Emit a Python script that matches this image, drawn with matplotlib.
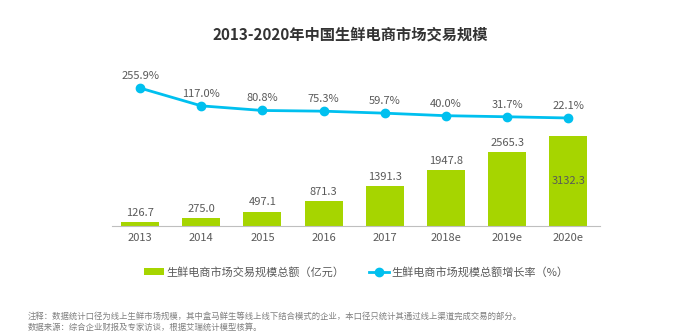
import matplotlib.pyplot as plt
import numpy as np

plt.rcParams['font.family'] = ['Noto Sans CJK SC', 'DejaVu Sans']

years = ['2013', '2014', '2015', '2016', '2017', '2018e', '2019e', '2020e']
scale = [126.7, 275.0, 497.1, 871.3, 1391.3, 1947.8, 2565.3, 3132.3]
growth = [255.9, 117.0, 80.8, 75.3, 59.7, 40.0, 31.7, 22.1]

bar_color = '#a6d500'
line_color = '#00c0ef'
text_color = '#595959'

fig = plt.figure(figsize=(7, 3.35), dpi=100)
ax = fig.add_axes([112 / 700, 1 - 226 / 335, 488 / 700, 146 / 335])
x = np.arange(len(years))

ax.bar(x, scale, width=0.62, color=bar_color, zorder=2, label='生鲜电商市场交易规模总额（亿元）')
for i, v in enumerate(scale):
    if i == len(scale) - 1:
        # last bar is tall enough to hold its label inside
        ax.text(i, v / 2, f'{v:.1f}', ha='center', va='center', fontsize=8, color=text_color)
    else:
        ax.text(i, v + 150, f'{v:.1f}', ha='center', va='bottom', fontsize=8, color=text_color)

ax.set_xlim(-0.46, 7.52)
ax.set_ylim(0, 5080)
ax.set_xticks(x)
ax.set_xticklabels(years, fontsize=8, color=text_color)
ax.tick_params(axis='x', length=0, pad=5)
ax.set_yticks([])
for s in ['top', 'left', 'right']:
    ax.spines[s].set_visible(False)
ax.spines['bottom'].set_color('#bfbfbf')

ax2 = ax.twinx()
ax2.plot(x, growth, color=line_color, lw=2, marker='o', ms=6, zorder=3,
         label='生鲜电商市场规模总额增长率（%）')
for i, v in enumerate(growth):
    ax2.text(i, v + 55, f'{v:.1f}%', ha='center', va='bottom', fontsize=8, color=text_color)
ax2.set_ylim(-822, 319)
ax2.set_yticks([])
for s in ['top', 'left', 'right', 'bottom']:
    ax2.spines[s].set_visible(False)

fig.text(0.5, 1 - 35 / 335, '2013-2020年中国生鲜电商市场交易规模', ha='center', va='center',
         fontsize=11, fontweight='bold', color='#333333')

h1, l1 = ax.get_legend_handles_labels()
h2, l2 = ax2.get_legend_handles_labels()
fig.legend(h1 + h2, l1 + l2, loc='center', bbox_to_anchor=(356 / 700, 1 - 272 / 335), ncol=2,
           frameon=False, fontsize=8, labelcolor=text_color, handlelength=1.8,
           handleheight=0.7, columnspacing=2.2, handletextpad=0.2)

fig.text(28 / 700, 1 - 316 / 335, '注释：数据统计口径为线上生鲜市场规模，其中盒马鲜生等线上线下结合模式的企业，本口径只统计其通过线上渠道完成交易的部分。',
         ha='left', va='center', fontsize=6, color='#7f7f7f')
fig.text(28 / 700, 1 - 327 / 335, '数据来源：综合企业财报及专家访谈，根据艾瑞统计模型核算。',
         ha='left', va='center', fontsize=6, color='#7f7f7f')

fig.savefig('out.png', dpi=100)
